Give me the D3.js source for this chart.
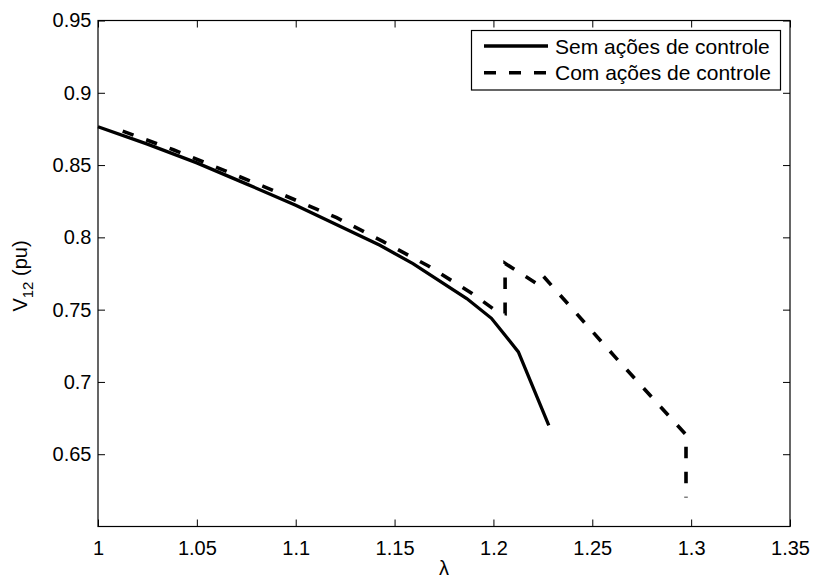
<!DOCTYPE html>
<html>
<head>
<meta charset="utf-8">
<script src="https://cdn.jsdelivr.net/npm/d3@7"></script>
<style>
  html, body { margin: 0; padding: 0; background: #fff; }
  svg { display: block; font-family: "Liberation Sans", Arial, Helvetica, sans-serif; }
</style>
</head>
<body>
<svg id="chart" width="817" height="580"></svg>
<script>
// ---- Data ----
const lambdaSem = [1.0, 1.025, 1.05, 1.075, 1.1, 1.1426, 1.1593, 1.1865, 1.199, 1.2126, 1.228];
const vSem      = [0.8765, 0.8645, 0.8515, 0.837, 0.8222, 0.7945, 0.7818, 0.7577, 0.744, 0.7208, 0.670];

const lambdaCom = [1.0125, 1.0381, 1.0836, 1.1207, 1.1443, 1.1671, 1.189, 1.2025, 1.2059, 1.2059, 1.2219, 1.2248, 1.2615, 1.2974, 1.2974];
const vCom      = [0.8735, 0.8606, 0.8353, 0.8136, 0.797, 0.7802, 0.7613, 0.748, 0.7473, 0.782, 0.768, 0.7738, 0.7173, 0.6635, 0.620];

const xTicks = [1, 1.05, 1.1, 1.15, 1.2, 1.25, 1.3, 1.35];
const xTickLabels = ["1", "1.05", "1.1", "1.15", "1.2", "1.25", "1.3", "1.35"];
const yTicks = [0.65, 0.7, 0.75, 0.8, 0.85, 0.9, 0.95];
const yTickLabels = ["0.65", "0.7", "0.75", "0.8", "0.85", "0.9", "0.95"];
const seriesNames = ["Sem ações de controle", "Com ações de controle"];

// ---- Layout ----
const L = 98, R = 790, T = 20.5, B = 526.5;
const FS = 20;
const svg = d3.select("#chart");

const x = d3.scaleLinear().domain([1, 1.35]).range([L, R]);
const y = d3.scaleLinear().domain([0.6, 0.95]).range([B, T]);

// axes box
const tickLen = 7;
const gx = svg.append("g").attr("transform", `translate(0,${B})`)
  .call(d3.axisBottom(x).tickValues(xTicks).tickFormat((d, i) => xTickLabels[i])
        .tickSizeInner(-tickLen).tickSizeOuter(0).tickPadding(14));
const gxt = svg.append("g").attr("transform", `translate(0,${T})`)
  .call(d3.axisTop(x).tickValues(xTicks).tickFormat("").tickSizeInner(-tickLen).tickSizeOuter(0));
const gy = svg.append("g").attr("transform", `translate(${L},0)`)
  .call(d3.axisLeft(y).tickValues(yTicks).tickFormat((d, i) => yTickLabels[i])
        .tickSizeInner(-tickLen).tickSizeOuter(0).tickPadding(14));
const gyr = svg.append("g").attr("transform", `translate(${R},0)`)
  .call(d3.axisRight(y).tickValues(yTicks).tickFormat("").tickSizeInner(-tickLen).tickSizeOuter(0));

[gx, gxt, gy, gyr].forEach(g => {
  g.select(".domain").remove();
  g.selectAll(".tick line").attr("stroke", "#000").attr("stroke-width", 1);
  g.selectAll("text").attr("fill", "#000").style("font-size", FS + "px");
});
gy.selectAll(".tick text").attr("x", -6.5);

svg.append("rect").attr("x", L).attr("y", T).attr("width", R - L).attr("height", B - T)
  .attr("fill", "none").attr("stroke", "#000").attr("stroke-width", 1.2);

// ---- Lines ----
const line = d3.line().x(d => x(d[0])).y(d => y(d[1]));
const sem = lambdaSem.map((l, i) => [l, vSem[i]]);
const com = lambdaCom.map((l, i) => [l, vCom[i]]);

svg.append("path").datum(sem).attr("d", line)
  .attr("fill", "none").attr("stroke", "#000").attr("stroke-width", 3.3)
  .attr("stroke-linejoin", "miter");
svg.append("path").datum(com).attr("d", line)
  .attr("fill", "none").attr("stroke", "#000").attr("stroke-width", 3.6)
  .attr("stroke-dasharray", "11.5,13.5").attr("stroke-linejoin", "miter");

// ---- Axis labels ----
svg.append("text").attr("x", (L + R) / 2).attr("y", 575).attr("text-anchor", "middle")
  .style("font-size", FS + "px").text("λ");

const yl = svg.append("text").attr("transform", "translate(27,276) rotate(-90)")
  .attr("text-anchor", "middle").style("font-size", FS + "px");
yl.append("tspan").text("V");
yl.append("tspan").attr("dy", 6).style("font-size", "15px").text("12");
yl.append("tspan").attr("dy", -6).text(" (pu)");

// ---- Legend ----
const lg = svg.append("g");
lg.append("rect").attr("x", 471.5).attr("y", 30.5).attr("width", 309).attr("height", 59.5)
  .attr("fill", "#fff").attr("stroke", "#000").attr("stroke-width", 1.2);
const legY = [46, 72.7];
const dashes = [null, "12,13"];
seriesNames.forEach((name, i) => {
  lg.append("line").attr("x1", 484).attr("x2", 548).attr("y1", legY[i]).attr("y2", legY[i])
    .attr("stroke", "#000").attr("stroke-width", 3.5)
    .attr("stroke-dasharray", dashes[i]);
  lg.append("text").attr("x", 555).attr("y", legY[i]).attr("dy", "0.36em")
    .style("font-size", "21px").text(name);
});
</script>
</body>
</html>
